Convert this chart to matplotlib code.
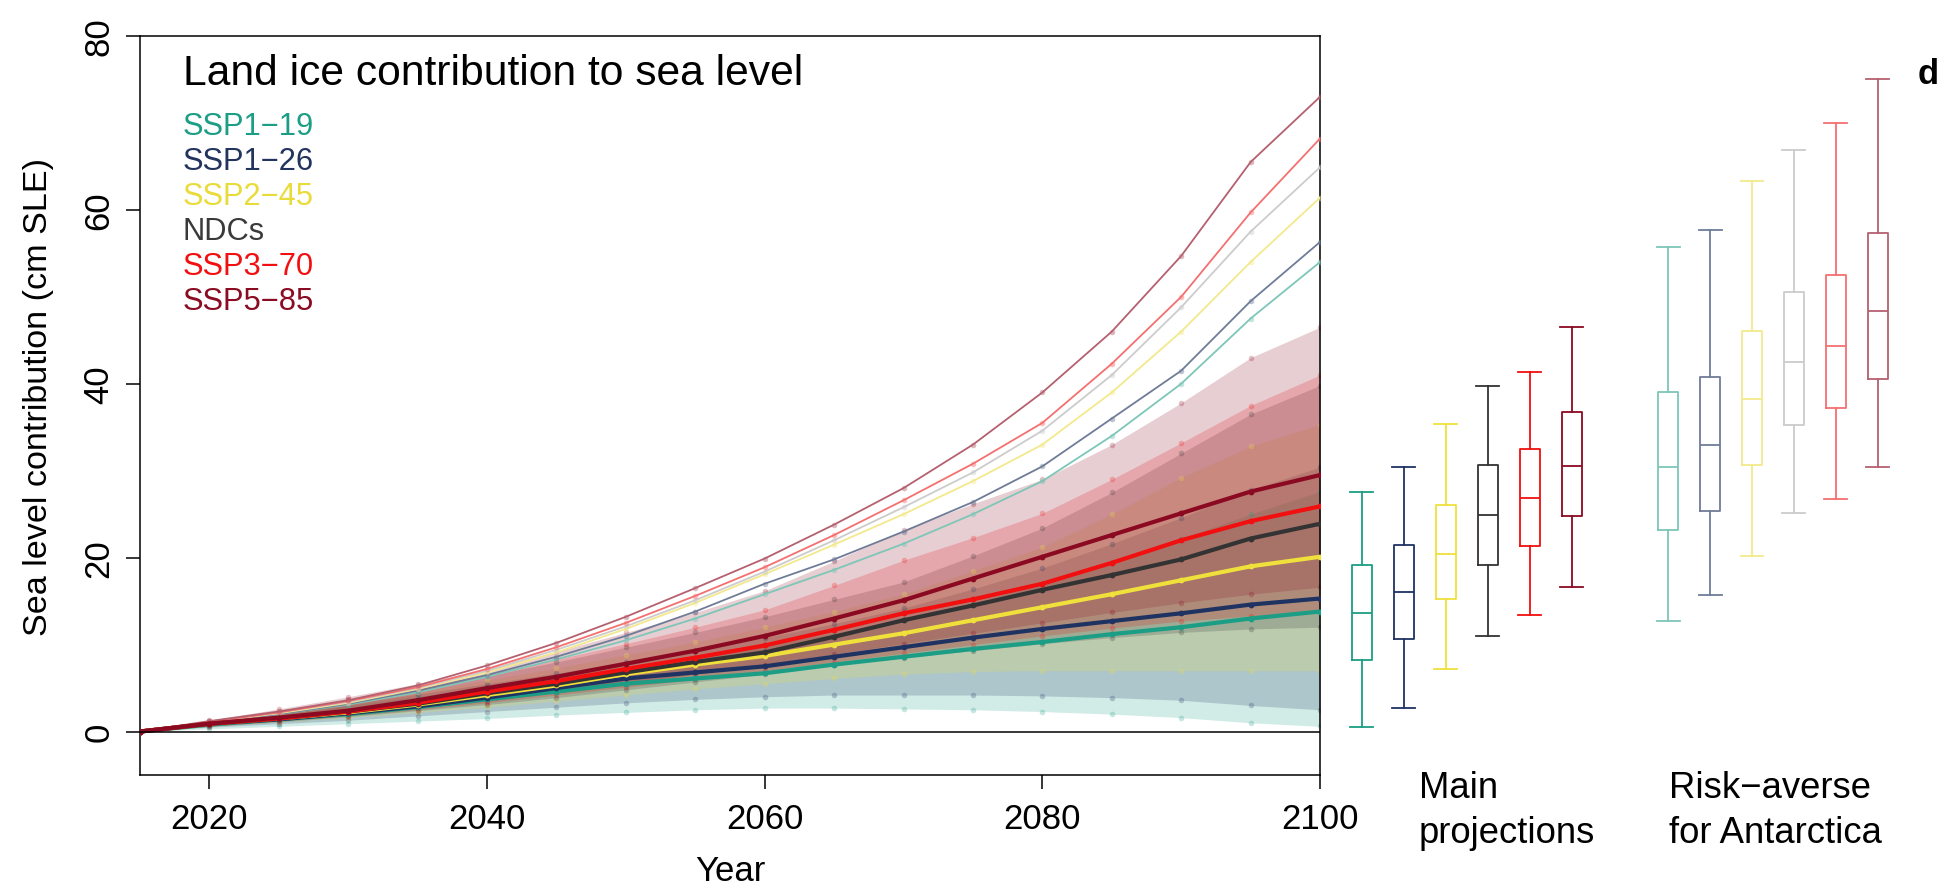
import matplotlib
matplotlib.use("Agg")
import matplotlib.pyplot as plt

plt.rcParams['font.family'] = ['Liberation Sans', 'DejaVu Sans']

# ---------------- data ----------------
years = [2015, 2020, 2025, 2030, 2035, 2040, 2045, 2050, 2055, 2060,
         2065, 2070, 2075, 2080, 2085, 2090, 2095, 2100]

scenarios = ["SSP1\u221219", "SSP1\u221226", "SSP2\u221245", "NDCs", "SSP3\u221270", "SSP5\u221285"]

# median (main projections)
med_119 = [0, 0.8, 1.4, 2.0, 2.8, 3.7, 4.6, 5.5, 6.1, 6.7, 7.7, 8.6, 9.5, 10.3, 11.2, 12.0, 13.0, 13.8]
med_126 = [0, 0.9, 1.4, 2.1, 2.9, 3.9, 5.0, 6.1, 6.8, 7.5, 8.6, 9.7, 10.8, 11.8, 12.7, 13.6, 14.6, 15.3]
med_245 = [0, 0.9, 1.5, 2.2, 3.1, 4.2, 5.3, 6.6, 7.7, 8.7, 10.0, 11.3, 12.8, 14.3, 15.8, 17.4, 19.0, 20.1]
med_ndc = [0, 0.9, 1.5, 2.3, 3.2, 4.4, 5.5, 6.8, 8.0, 9.1, 10.9, 12.8, 14.5, 16.3, 18.0, 19.8, 22.2, 23.9]
med_370 = [0, 0.9, 1.5, 2.3, 3.3, 4.6, 5.8, 7.2, 8.5, 9.9, 11.7, 13.6, 15.2, 17.0, 19.4, 22.0, 24.2, 25.9]
med_585 = [0, 0.9, 1.6, 2.4, 3.6, 5.0, 6.3, 7.8, 9.3, 11.0, 13.0, 15.1, 17.6, 20.1, 22.6, 25.1, 27.6, 29.5]

# 5th percentile (main projections)
p05_119 = [0, 0.3, 0.6, 0.9, 1.2, 1.5, 1.9, 2.2, 2.5, 2.7, 2.7, 2.6, 2.5, 2.3, 2.0, 1.6, 1.0, 0.6]
p05_126 = [0, 0.5, 0.9, 1.3, 1.8, 2.3, 2.8, 3.3, 3.7, 4.0, 4.2, 4.2, 4.2, 4.1, 3.9, 3.6, 3.0, 2.5]
p05_245 = [0, 0.6, 1.1, 1.6, 2.2, 2.8, 3.5, 4.2, 4.9, 5.5, 6.1, 6.6, 6.9, 7.0, 7.0, 7.0, 7.0, 7.0]
p05_ndc = [0, 0.6, 1.1, 1.7, 2.4, 3.1, 3.9, 4.8, 5.7, 6.6, 7.6, 8.5, 9.3, 10.1, 10.8, 11.4, 11.8, 12.0]
p05_370 = [0, 0.6, 1.2, 1.8, 2.5, 3.3, 4.2, 5.1, 6.0, 7.0, 8.0, 9.0, 10.0, 11.0, 11.9, 12.7, 13.3, 13.7]
p05_585 = [0, 0.7, 1.3, 1.9, 2.7, 3.5, 4.5, 5.5, 6.6, 7.7, 8.9, 10.1, 11.3, 12.5, 13.7, 14.8, 15.8, 16.6]

# 95th percentile (main projections)
p95_119 = [0, 1.0, 2.0, 3.0, 4.0, 5.1, 6.2, 7.4, 8.6, 9.9, 11.3, 12.8, 14.8, 17.0, 19.5, 22.2, 25.0, 27.6]
p95_126 = [0, 1.1, 2.1, 3.2, 4.3, 5.5, 6.7, 8.0, 9.3, 10.8, 12.4, 14.2, 16.4, 18.8, 21.6, 24.6, 27.8, 30.4]
p95_245 = [0, 1.1, 2.2, 3.4, 4.6, 5.9, 7.3, 8.8, 10.3, 12.0, 13.8, 15.8, 18.5, 21.2, 25.0, 29.2, 32.8, 35.3]
p95_ndc = [0, 1.2, 2.3, 3.6, 4.9, 6.4, 8.0, 9.7, 11.4, 13.2, 15.2, 17.2, 20.2, 23.4, 27.5, 32.0, 36.5, 39.8]
p95_370 = [0, 1.2, 2.4, 3.7, 5.1, 6.6, 8.3, 10.1, 12.0, 14.0, 16.8, 19.7, 22.3, 25.1, 29.0, 33.2, 37.5, 41.0]
p95_585 = [0, 1.3, 2.6, 4.0, 5.5, 7.2, 9.2, 11.4, 13.7, 16.2, 19.6, 23.2, 26.2, 29.0, 33.0, 37.8, 43.0, 46.5]

# 95th percentile (risk-averse for Antarctica)
ra_119 = [0, 1.0, 2.0, 3.1, 4.5, 6.3, 8.3, 10.5, 13.0, 15.8, 18.6, 21.6, 25.0, 28.8, 34.0, 40.0, 47.5, 54.0]
ra_126 = [0, 1.0, 2.0, 3.2, 4.7, 6.5, 8.6, 11.0, 13.8, 17.0, 19.8, 23.0, 26.4, 30.5, 36.0, 41.5, 49.5, 56.3]
ra_245 = [0, 1.1, 2.1, 3.3, 4.9, 6.8, 9.1, 11.8, 14.8, 18.1, 21.5, 25.0, 28.8, 33.0, 39.0, 46.0, 54.0, 61.4]
ra_ndc = [0, 1.1, 2.2, 3.4, 5.0, 7.0, 9.4, 12.1, 15.1, 18.4, 22.0, 25.8, 29.8, 34.6, 41.0, 48.8, 57.5, 64.9]
ra_370 = [0, 1.1, 2.2, 3.5, 5.1, 7.2, 9.7, 12.5, 15.6, 18.9, 22.6, 26.6, 30.8, 35.5, 42.3, 50.0, 59.7, 68.2]
ra_585 = [0, 1.2, 2.3, 3.6, 5.3, 7.6, 10.2, 13.2, 16.5, 19.9, 23.8, 28.0, 33.0, 39.0, 46.0, 54.7, 65.5, 73.0]

# 2100 box plots: main projections
main_lo = [0.5, 2.7, 7.2, 11.0, 13.4, 16.6]
main_q1 = [8.2, 10.7, 15.3, 19.2, 21.3, 24.8]
main_med = [13.6, 16.1, 20.4, 24.9, 26.9, 30.5]
main_q3 = [19.2, 21.5, 26.1, 30.6, 32.5, 36.7]
main_hi = [27.6, 30.4, 35.4, 39.8, 41.3, 46.5]

# 2100 box plots: risk-averse for Antarctica
risk_lo = [12.7, 15.7, 20.2, 25.1, 26.7, 30.4]
risk_q1 = [23.2, 25.4, 30.7, 35.2, 37.2, 40.6]
risk_med = [30.4, 33.0, 38.2, 42.5, 44.3, 48.4]
risk_q3 = [39.0, 40.8, 46.1, 50.5, 52.5, 57.3]
risk_hi = [55.7, 57.7, 63.3, 66.9, 70.0, 75.1]

xticks = [2020, 2040, 2060, 2080, 2100]
yticks = [0, 20, 40, 60, 80]

# ---------------- style ----------------
colors = ['#1b9e85', '#1f3362', '#efe03c', '#333333', '#f20f0f', '#8b0a22']
risk_colors = ['#7dc6b8', '#6f7c98', '#f3e98c', '#cccccc', '#f47070', '#b5606f']
text_colors = ['#1b9e85', '#22345e', '#e9dc3a', '#3a3a3a', '#f20f0f', '#8b0c22']

meds = [med_119, med_126, med_245, med_ndc, med_370, med_585]
p05s = [p05_119, p05_126, p05_245, p05_ndc, p05_370, p05_585]
p95s = [p95_119, p95_126, p95_245, p95_ndc, p95_370, p95_585]
ras = [ra_119, ra_126, ra_245, ra_ndc, ra_370, ra_585]

W, H = 1940, 887
fig = plt.figure(figsize=(W / 100, H / 100), dpi=100)


def fx(x):
    return x / W


def fy(y):
    return 1 - y / H


ax_left, ax_right, ax_top, ax_bot = 140, 1320, 37, 776
ax = fig.add_axes([fx(ax_left), fy(ax_bot), (ax_right - ax_left) / W, (ax_bot - ax_top) / H])
ax.set_xlim(2015, 2100)
ax.set_ylim(-5, 80)

# bands
for c, lo, hi in zip(colors, p05s, p95s):
    ax.fill_between(years, lo, hi, color=c, alpha=0.2, lw=0, zorder=1)
    ax.plot(years, lo, 'o', color=c, alpha=0.25, ms=4, mec='none', zorder=2)
    ax.plot(years, hi, 'o', color=c, alpha=0.25, ms=4, mec='none', zorder=2)

# risk-averse upper lines
for c, ra in zip(risk_colors, ras):
    ax.plot(years, ra, '-', color=c, lw=1.3, zorder=3)
    ax.plot(years, ra, 'o', color=c, alpha=0.45, ms=4, mec='none', zorder=3)

# medians
for c, m in zip(colors, meds):
    ax.plot(years, m, '-', color=c, lw=3.0, zorder=4, solid_capstyle='butt')
    ax.plot(years, m, 'o', color=c, ms=4.2, mec='none', zorder=4)

ax.axhline(0, color='black', lw=1.1, zorder=5)

for s in ax.spines.values():
    s.set_linewidth(1.1)
ax.set_xticks(xticks)
ax.set_xticklabels([str(t) for t in xticks])
ax.set_yticks(yticks)
ax.set_yticklabels([str(t) for t in yticks], rotation=90, va='center')
ax.tick_params(axis='both', direction='out', length=10.3, width=1.1, labelsize=25)
ax.tick_params(axis='x', pad=8.8)
ax.tick_params(axis='y', pad=7.4)

# texts in panel
fig.text(fx(183), fy(85), "Land ice contribution to sea level", fontsize=30.7,
         ha='left', va='baseline')
for i, (name, tc) in enumerate(zip(scenarios, text_colors)):
    fig.text(fx(183), fy(135 + 35 * i), name, fontsize=22.2, color=tc,
             ha='left', va='baseline')

fig.text(fx(39), fy(397), "Sea level contribution (cm SLE)", fontsize=24.6,
         rotation=90, ha='center', va='center')
fig.text(fx(730), fy(881.5), "Year", fontsize=25, ha='center', va='baseline')

# ---------------- box plots ----------------
ax2 = fig.add_axes([fx(ax_right), fy(ax_bot), (W - ax_right) / W, (ax_bot - ax_top) / H])
ax2.set_xlim(0, W - ax_right)
ax2.set_ylim(-5, 80)
ax2.axis('off')

main_pos = [41.5 + 42 * i for i in range(6)]
risk_pos = [348 + 42 * i for i in range(6)]


def draw_boxes(pos, lo, q1, med, q3, hi, cols):
    stats = []
    for a, b, m, d, e in zip(lo, q1, med, q3, hi):
        stats.append(dict(whislo=a, q1=b, med=m, q3=d, whishi=e, fliers=[]))
    res = ax2.bxp(stats, positions=pos, widths=20, capwidths=23, showfliers=False,
                  manage_ticks=False)
    for i, c in enumerate(cols):
        res['boxes'][i].set_color(c)
        res['boxes'][i].set_linewidth(1.3)
        res['medians'][i].set_color(c)
        res['medians'][i].set_linewidth(1.3)
        for k in (2 * i, 2 * i + 1):
            res['whiskers'][k].set_color(c)
            res['whiskers'][k].set_linewidth(1.3)
            res['whiskers'][k].set_linestyle('-')
            res['caps'][k].set_color(c)
            res['caps'][k].set_linewidth(1.3)


draw_boxes(main_pos, main_lo, main_q1, main_med, main_q3, main_hi, colors)
draw_boxes(risk_pos, risk_lo, risk_q1, risk_med, risk_q3, risk_hi, risk_colors)

fig.text(fx(1419), fy(798), "Main", fontsize=26.3, ha='left', va='baseline')
fig.text(fx(1419), fy(843), "projections", fontsize=26.3, ha='left', va='baseline')
fig.text(fx(1669), fy(798), "Risk\u2212averse", fontsize=26.3, ha='left', va='baseline')
fig.text(fx(1669), fy(843), "for Antarctica", fontsize=26.3, ha='left', va='baseline')
fig.text(fx(1918), fy(84), "d", fontsize=25, fontweight='bold', ha='left', va='baseline')

fig.savefig("out.png", dpi=100)
